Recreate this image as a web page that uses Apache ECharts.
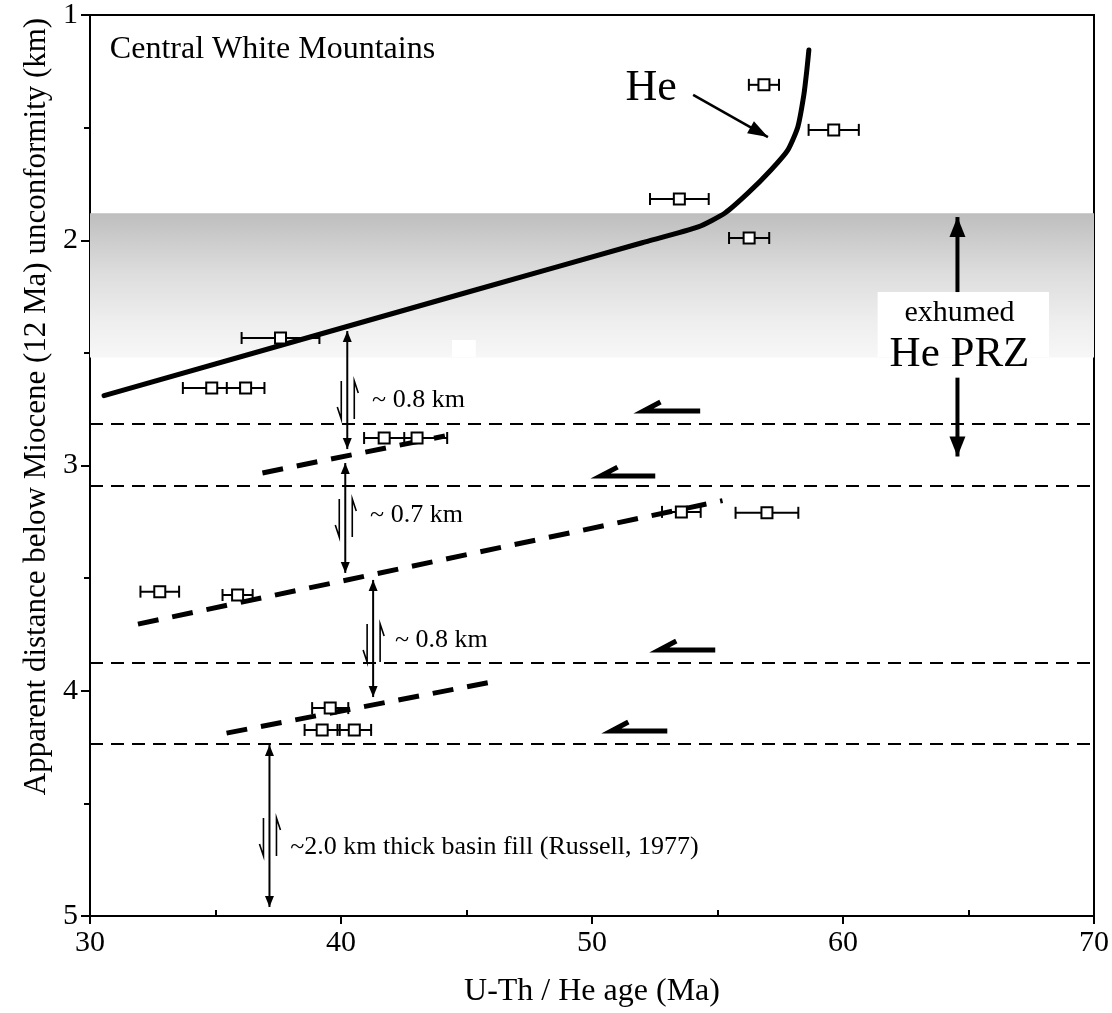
<!DOCTYPE html>
<html>
<head>
<meta charset="utf-8">
<script src="https://cdn.jsdelivr.net/npm/echarts@6/dist/echarts.min.js"></script>
<style>
  html, body { margin: 0; padding: 0; background: #fff; }
  #main { width: 1112px; height: 1013px; }
</style>
</head>
<body>
<div id="main"></div>
<script>
const FONT = '"Liberation Serif", "Times New Roman", serif';

// U-Th / He ages (Ma), error (Ma) and apparent depth (km)
const ages   = [56.85, 59.63, 53.48, 56.26, 37.59, 34.85, 36.2, 41.72, 43.03, 53.56, 56.97, 32.78, 35.88, 39.57, 39.25, 40.53];
const errs   = [0.6, 1.0, 1.17, 0.8, 1.55, 1.15, 0.75, 0.8, 1.2, 0.77, 1.25, 0.77, 0.6, 0.72, 0.7, 0.67];
const depths = [1.31, 1.51, 1.817, 1.99, 2.434, 2.656, 2.656, 2.878, 2.878, 3.206, 3.21, 3.56, 3.575, 4.077, 4.174, 4.174];

// modelled He age curve
const heAge   = [30.56, 45.0, 52.0, 54.23, 55.3, 56.22, 57.13, 57.8, 58.2, 58.44, 58.56, 58.64];
const heDepth = [2.69, 2.232, 2.011, 1.941, 1.879, 1.79, 1.688, 1.60, 1.497, 1.355, 1.244, 1.155];

// normal faults (horizontal) and offset PRZ bases (inclined)
const faultDepths = [2.816, 3.091, 3.877, 4.236];
const przBases = [
  [[36.87, 3.033], [44.14, 2.869]],
  [[31.91, 3.704], [55.20, 3.156]],
  [[35.44, 4.188], [46.01, 3.961]]
];

// exhumed PRZ band
const bandTop = 1.88, bandBottom = 2.52;

// annotations (data coordinates)
const offsetArrows = [[40.25, 2.403, 2.927], [40.17, 2.989, 3.477], [41.28, 3.508, 4.028], [37.15, 4.241, 4.96]];
const shearMarks   = [[40.25, 2.709], [40.17, 3.233], [41.28, 3.788], [37.15, 4.649]];
const slipArrows   = [[52.05, 54.31, 2.758], [50.34, 52.52, 3.047], [52.68, 54.91, 3.819], [50.77, 53.0, 4.179]];
const przArrows    = [[64.56, 2.23, 1.897], [64.56, 2.61, 2.96]];
const pointer      = [[54.03, 1.355, 57.01, 1.542]];
const whiteBoxes   = [[61.38, 2.23, 68.21, 2.518], [44.42, 2.443, 45.37, 2.518]];

const textLabels = [
  { x: 30.79, y: 1.155, text: 'Central White Mountains', size: 32, align: 'left' },
  { x: 51.33, y: 1.324, text: 'He', size: 44, align: 'left' },
  { x: 41.24, y: 2.709, text: '~ 0.8 km', size: 26, align: 'left' },
  { x: 41.16, y: 3.22,  text: '~ 0.7 km', size: 26, align: 'left' },
  { x: 42.15, y: 3.775, text: '~ 0.8 km', size: 26, align: 'left' },
  { x: 37.98, y: 4.694, text: '~2.0 km thick basin fill (Russell, 1977)', size: 26, align: 'left' },
  { x: 64.64, y: 2.323, text: 'exhumed', size: 30, align: 'center' },
  { x: 64.64, y: 2.51,  text: 'He PRZ', size: 43, align: 'center' }
];

function head(tip, from, len, half) {
  const dx = tip[0] - from[0], dy = tip[1] - from[1];
  const d = Math.hypot(dx, dy);
  const ux = dx / d, uy = dy / d;
  const bx = tip[0] - ux * len, by = tip[1] - uy * len;
  return [tip, [bx - uy * half, by + ux * half], [bx + uy * half, by - ux * half]];
}

function arrow(from, tip, width, len, half) {
  return [
    { type: 'line', shape: { x1: from[0], y1: from[1], x2: tip[0], y2: tip[1] }, style: { stroke: '#000', lineWidth: width } },
    { type: 'polygon', shape: { points: head(tip, from, len, half) }, style: { fill: '#000' } }
  ];
}

const chart = echarts.init(document.getElementById('main'));

const baseLine = { type: 'line', symbol: 'none', silent: true, animation: false };

const series = [];

series.push({
  type: 'custom', z: 1, silent: true, animation: false, clip: false,
  data: [[30, bandTop, 70, bandBottom]],
  renderItem: function (params, api) {
    const a = api.coord([api.value(0), api.value(1)]);
    const b = api.coord([api.value(2), api.value(3)]);
    return {
      type: 'rect',
      shape: { x: a[0], y: a[1], width: b[0] - a[0], height: b[1] - a[1] },
      style: {
        fill: new echarts.graphic.LinearGradient(0, 0, 0, 1, [
          { offset: 0, color: '#bebebe' },
          { offset: 0.4, color: '#dcdcdc' },
          { offset: 0.75, color: '#eeeeee' },
          { offset: 1, color: '#f7f7f7' }
        ])
      }
    };
  }
});

series.push({
  type: 'custom', z: 2, silent: true, animation: false, clip: false,
  data: whiteBoxes,
  renderItem: function (params, api) {
    const a = api.coord([api.value(0), api.value(1)]);
    const b = api.coord([api.value(2), api.value(3)]);
    return { type: 'rect', shape: { x: a[0], y: a[1], width: b[0] - a[0], height: b[1] - a[1] }, style: { fill: '#fff' } };
  }
});

faultDepths.forEach(function (d) {
  series.push(Object.assign({}, baseLine, {
    z: 3,
    data: [[30, d], [70, d]],
    lineStyle: { color: '#000', width: 2, type: [13, 8] }
  }));
});

przBases.forEach(function (seg) {
  series.push(Object.assign({}, baseLine, {
    z: 3,
    data: seg,
    lineStyle: { color: '#000', width: 5, type: [21, 14] }
  }));
});

series.push(Object.assign({}, baseLine, {
  z: 4,
  smooth: 0.2,
  data: heAge.map(function (a, i) { return [a, heDepth[i]]; }),
  lineStyle: { color: '#000', width: 5, cap: 'round', join: 'round' }
}));

series.push({
  type: 'custom', z: 5, silent: true, animation: false, clip: false,
  data: offsetArrows,
  renderItem: function (params, api) {
    const a = api.coord([api.value(0), api.value(1)]);
    const b = api.coord([api.value(0), api.value(2)]);
    return {
      type: 'group', children: [
        { type: 'line', shape: { x1: a[0], y1: a[1], x2: b[0], y2: b[1] }, style: { stroke: '#000', lineWidth: 2 } },
        { type: 'polygon', shape: { points: head(a, b, 11, 4.5) }, style: { fill: '#000' } },
        { type: 'polygon', shape: { points: head(b, a, 11, 4.5) }, style: { fill: '#000' } }
      ]
    };
  }
});

series.push({
  type: 'custom', z: 5, silent: true, animation: false, clip: false,
  data: shearMarks,
  renderItem: function (params, api) {
    const c = api.coord([api.value(0), api.value(1)]);
    const st = { stroke: '#000', lineWidth: 1.6, fill: null };
    return {
      type: 'group', children: [
        { type: 'polyline', shape: { points: [[c[0] - 6, c[1] - 19], [c[0] - 6, c[1] + 19], [c[0] - 10, c[1] + 7]] }, style: st },
        { type: 'polyline', shape: { points: [[c[0] + 7, c[1] + 19], [c[0] + 7, c[1] - 19], [c[0] + 11, c[1] - 7]] }, style: st }
      ]
    };
  }
});

series.push({
  type: 'custom', z: 5, silent: true, animation: false, clip: false,
  data: slipArrows,
  renderItem: function (params, api) {
    const tip = api.coord([api.value(0), api.value(2)]);
    const tail = api.coord([api.value(1), api.value(2)]);
    return {
      type: 'polyline',
      shape: { points: [tail, tip, [tip[0] + 17, tip[1] - 9]] },
      style: { stroke: '#000', lineWidth: 5, fill: null, lineJoin: 'miter' }
    };
  }
});

series.push({
  type: 'custom', z: 5, silent: true, animation: false, clip: false,
  data: przArrows,
  renderItem: function (params, api) {
    const a = api.coord([api.value(0), api.value(1)]);
    const b = api.coord([api.value(0), api.value(2)]);
    return { type: 'group', children: arrow(a, b, 4, 20, 8) };
  }
});

series.push({
  type: 'custom', z: 5, silent: true, animation: false, clip: false,
  data: pointer,
  renderItem: function (params, api) {
    const a = api.coord([api.value(0), api.value(1)]);
    const b = api.coord([api.value(2), api.value(3)]);
    return { type: 'group', children: arrow(a, b, 2.5, 20, 7) };
  }
});

series.push({
  type: 'custom', z: 6, silent: true, animation: false, clip: false,
  data: ages.map(function (a, i) { return [a, depths[i], errs[i]]; }),
  renderItem: function (params, api) {
    const lo = api.coord([api.value(0) - api.value(2), api.value(1)]);
    const hi = api.coord([api.value(0) + api.value(2), api.value(1)]);
    const st = { stroke: '#000', lineWidth: 2 };
    return {
      type: 'group', children: [
        { type: 'line', shape: { x1: lo[0], y1: lo[1], x2: hi[0], y2: hi[1] }, style: st },
        { type: 'line', shape: { x1: lo[0], y1: lo[1] - 6, x2: lo[0], y2: lo[1] + 6 }, style: st },
        { type: 'line', shape: { x1: hi[0], y1: hi[1] - 6, x2: hi[0], y2: hi[1] + 6 }, style: st }
      ]
    };
  }
});

series.push({
  type: 'scatter', z: 7, silent: true, animation: false,
  symbol: 'rect', symbolSize: 11,
  data: ages.map(function (a, i) { return [a, depths[i]]; }),
  itemStyle: { color: '#fff', borderColor: '#000', borderWidth: 2, opacity: 1 }
});

series.push({
  type: 'custom', z: 8, silent: true, animation: false, clip: false,
  data: textLabels.map(function (t) { return [t.x, t.y]; }),
  renderItem: function (params, api) {
    const t = textLabels[params.dataIndex];
    const p = api.coord([api.value(0), api.value(1)]);
    return {
      type: 'text',
      style: {
        text: t.text, x: p[0], y: p[1],
        font: t.size + 'px ' + FONT, fill: '#000',
        align: t.align, verticalAlign: 'middle',
        textAlign: t.align, textVerticalAlign: 'middle'
      }
    };
  }
});

const labelStyle = { fontFamily: FONT, fontSize: 30, color: '#000' };

chart.setOption({
  animation: false,
  grid: { left: 90, right: 15, top: 15, bottom: 97, show: true, borderColor: '#000', borderWidth: 2 },
  xAxis: [
    {
      type: 'value', min: 30, max: 70, interval: 10,
      name: 'U-Th / He age (Ma)', nameLocation: 'middle', nameGap: 60,
      nameTextStyle: { fontFamily: FONT, fontSize: 32, color: '#000' },
      axisLine: { lineStyle: { color: '#000', width: 2 } },
      axisTick: { length: 8, lineStyle: { color: '#000', width: 2 } },
      axisLabel: Object.assign({ margin: 12 }, labelStyle),
      splitLine: { show: false }
    },
    {
      type: 'value', min: 30, max: 70, interval: 5, position: 'bottom',
      axisLine: { show: false },
      axisTick: { inside: true, length: 6, customValues: [35, 45, 55, 65], lineStyle: { color: '#000', width: 2 } },
      axisLabel: { show: false },
      splitLine: { show: false }
    }
  ],
  yAxis: {
    type: 'value', inverse: true, min: 1, max: 5, interval: 1,
    name: 'Apparent distance below Miocene (12 Ma) unconformity (km)',
    nameLocation: 'middle', nameGap: 38,
    nameTextStyle: { fontFamily: FONT, fontSize: 31, color: '#000', padding: [0, 0, 0, 118] },
    axisLine: { lineStyle: { color: '#000', width: 2 } },
    axisTick: { length: 9, lineStyle: { color: '#000', width: 2 } },
    minorTick: { show: true, splitNumber: 2, length: 6, lineStyle: { color: '#000', width: 2 } },
    axisLabel: Object.assign({ margin: 12 }, labelStyle),
    splitLine: { show: false }
  },
  series: series
});
</script>
</body>
</html>
